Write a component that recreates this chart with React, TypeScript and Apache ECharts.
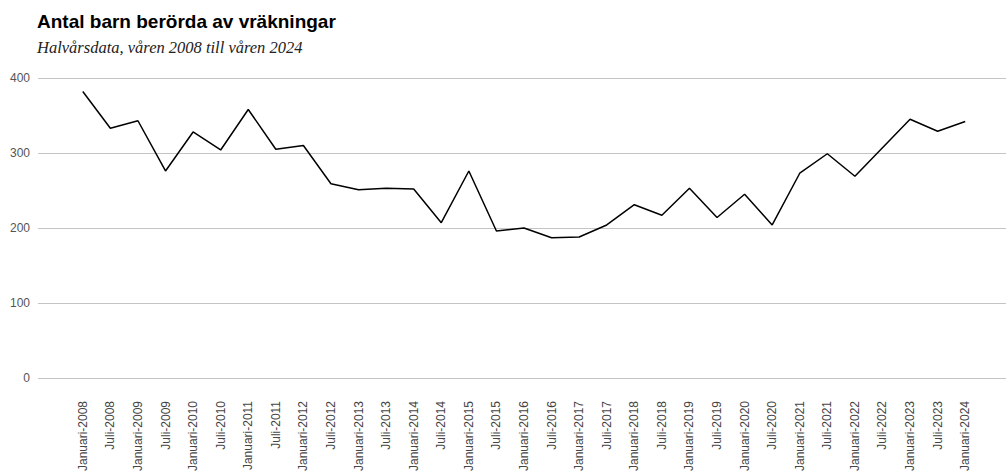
import React, { useEffect, useRef } from "react";
import * as echarts from "echarts";

const categories: string[] = [
  "Januari-2008", "Juli-2008", "Januari-2009", "Juli-2009", "Januari-2010", "Juli-2010",
  "Januari-2011", "Juli-2011", "Januari-2012", "Juli-2012", "Januari-2013", "Juli-2013",
  "Januari-2014", "Juli-2014", "Januari-2015", "Juli-2015", "Januari-2016", "Juli-2016",
  "Januari-2017", "Juli-2017", "Januari-2018", "Juli-2018", "Januari-2019", "Juli-2019",
  "Januari-2020", "Juli-2020", "Januari-2021", "Juli-2021", "Januari-2022", "Juli-2022",
  "Januari-2023", "Juli-2023", "Januari-2024",
];

const values: number[] = [
  382, 333, 343, 276, 328, 304, 358, 305, 310, 259, 251, 253, 252, 207, 276, 196, 200,
  187, 188, 204, 231, 217, 253, 214, 245, 204, 273, 299, 269, 307, 345, 329, 342,
];

const yMin = 0;
const yMax = 400;
const yInterval = 100;

const titleText = "Antal barn berörda av vräkningar";
const subtitleText = "Halvårsdata, våren 2008 till våren 2024";

export default function App() {
  const ref = useRef<HTMLDivElement>(null);
  useEffect(() => {
    document.body.style.margin = "0";
    if (!ref.current) return;
    const chart = echarts.init(ref.current, undefined, { renderer: "svg" });
    chart.setOption({
      animation: false,
      backgroundColor: "#ffffff",
      title: [
        {
          text: titleText,
          left: 37,
          top: 12,
          padding: 0,
          textStyle: { fontFamily: "Liberation Sans, Arial, sans-serif", fontWeight: "bold", fontSize: 19, color: "#000" },
        },
        {
          text: subtitleText,
          left: 37,
          top: 39,
          padding: 0,
          textStyle: { fontFamily: "Liberation Serif, serif", fontStyle: "italic", fontWeight: "normal", fontSize: 16.5, color: "#222" },
        },
      ],
      grid: [
        { left: 38, right: 0, top: 78, bottom: 96 },
        { left: 69, right: 27, top: 78, bottom: 96 },
      ],
      xAxis: [
        { type: "category", gridIndex: 0, data: categories, show: false },
        {
          type: "category",
          gridIndex: 1,
          data: categories,
          boundaryGap: true,
          axisLine: { show: false },
          axisTick: { show: false },
          axisLabel: {
            rotate: 90,
            interval: 0,
            margin: 23,
            fontFamily: "Liberation Sans, Arial, sans-serif",
            fontSize: 12,
            color: "#444",
          },
        },
      ],
      yAxis: [
        {
          type: "value",
          gridIndex: 0,
          min: yMin,
          max: yMax,
          interval: yInterval,
          axisLine: { show: false },
          axisTick: { show: false },
          axisLabel: { margin: 8, fontFamily: "Liberation Sans, Arial, sans-serif", fontSize: 12, color: "#555" },
          splitLine: { lineStyle: { color: "#c4c4c4", width: 1 } },
        },
        {
          type: "value",
          gridIndex: 1,
          min: yMin,
          max: yMax,
          interval: yInterval,
          show: false,
          splitLine: { show: false },
        },
      ],
      series: [
        {
          type: "line",
          xAxisIndex: 1,
          yAxisIndex: 1,
          data: values,
          showSymbol: false,
          symbol: "none",
          lineStyle: { color: "#000", width: 1.5 },
        },
      ],
    });
    return () => chart.dispose();
  }, []);
  return <div ref={ref} style={{ width: 1006, height: 474 }} />;
}
